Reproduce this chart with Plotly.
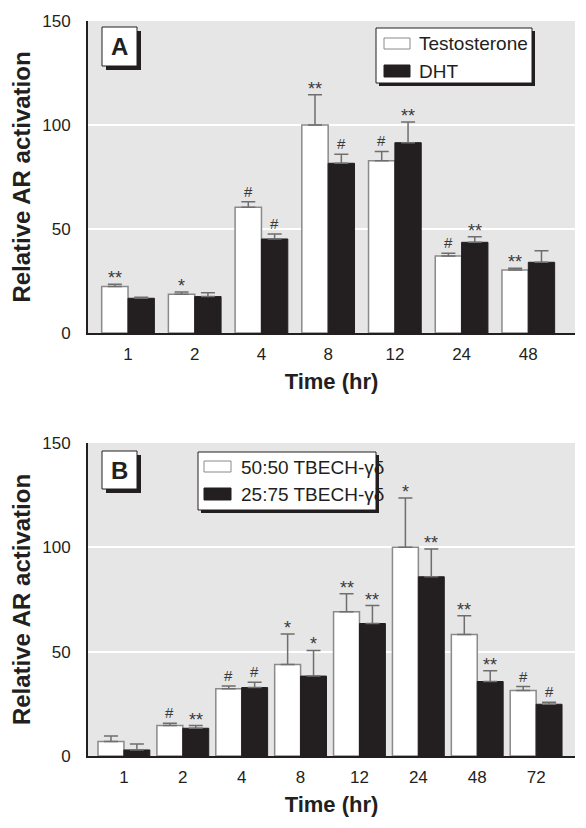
import plotly.graph_objects as go

# ---------------- data ----------------
cats_a = ["1", "2", "4", "8", "12", "24", "48"]
testo = [22.3, 18.6, 60.4, 100.0, 82.8, 37.0, 30.3]
testo_err = [1.1, 1.1, 2.7, 14.5, 4.5, 1.3, 0.8]
dht = [16.7, 17.5, 45.2, 81.6, 91.5, 43.6, 34.0]
dht_err = [0.5, 1.9, 2.4, 4.3, 9.9, 2.7, 5.6]
testo_sig = ["**", "*", "#", "**", "#", "#", "**"]
dht_sig = ["", "", "#", "#", "**", "**", ""]

cats_b = ["1", "2", "4", "8", "12", "24", "48", "72"]
tb50 = [6.9, 14.6, 32.2, 43.8, 69.1, 100.0, 58.2, 31.4]
tb50_err = [2.7, 1.1, 1.3, 14.7, 8.6, 23.6, 9.0, 1.9]
tb25 = [2.9, 13.3, 32.8, 38.3, 63.5, 85.9, 35.7, 24.8]
tb25_err = [2.9, 1.3, 2.6, 12.3, 8.6, 13.3, 5.2, 1.0]
tb50_sig = ["", "#", "#", "*", "**", "*", "**", "#"]
tb25_sig = ["", "**", "#", "*", "**", "**", "**", "#"]

y_ticks = [0, 50, 100, 150]

# ---------------- style ----------------
OFF = 8                      # page body margin in the browser
W, H = 586 - OFF, 828 - OFF
L_REF, R_REF, T_REF, B_REF = 88, 575, 21, 756   # plot area in page pixels
ML, MT = L_REF - OFF, T_REF - OFF
MR = W - (R_REF - OFF)
MB = H - (B_REF - OFF)
FONT = "Liberation Sans, Arial, Helvetica, sans-serif"
BLACK = "#231f20"
GRAY_BG = "#e6e6e6"
EDGE = "#8a8a8a"
ERRC = "#6e6e6e"

pw = R_REF - L_REF
ph = B_REF - T_REF


def px(xp):
    return (xp - L_REF) / pw


def py(yp):
    return (B_REF - yp) / ph


dom_a = [py(333), 1.0]
dom_b = [0.0, py(443)]

fig = go.Figure()


def add_panel(cats, s1, e1, s2, e2, xa, ya, bw):
    xs = list(range(len(cats)))
    fig.add_trace(go.Bar(
        x=xs, y=s1, width=bw, offset=-bw, xaxis=xa, yaxis=ya,
        marker=dict(color="white", line=dict(color=EDGE, width=1.5)),
        error_y=dict(type="data", array=e1, arrayminus=[0] * len(e1), symmetric=False,
                     color=ERRC, thickness=1.5, width=7),
        showlegend=False, hoverinfo="skip"))
    fig.add_trace(go.Bar(
        x=xs, y=s2, width=bw, offset=0, xaxis=xa, yaxis=ya,
        marker=dict(color=BLACK, line=dict(color=BLACK, width=1)),
        error_y=dict(type="data", array=e2, arrayminus=[0] * len(e2), symmetric=False,
                     color=ERRC, thickness=1.5, width=7),
        showlegend=False, hoverinfo="skip"))


bw_a = 0.395
bw_b = 0.44
add_panel(cats_a, testo, testo_err, dht, dht_err, "x", "y", bw_a)
add_panel(cats_b, tb50, tb50_err, tb25, tb25_err, "x2", "y2", bw_b)

annotations = []


def sig_marks(vals, errs, sigs, xref, yref, dx):
    for i, (v, e, s) in enumerate(zip(vals, errs, sigs)):
        if not s:
            continue
        star = "*" in s
        annotations.append(dict(
            x=i + dx, y=v + e, xref=xref, yref=yref, text=s, showarrow=False,
            yanchor="bottom", xanchor="center",
            yshift=(-6 if star else 0),
            font=dict(family=FONT, size=(18 if star else 15), color="#3a3a3a")))


sig_marks(testo, testo_err, testo_sig, "x", "y", -bw_a / 2)
sig_marks(dht, dht_err, dht_sig, "x", "y", bw_a / 2)
sig_marks(tb50, tb50_err, tb50_sig, "x2", "y2", -bw_b / 2)
sig_marks(tb25, tb25_err, tb25_sig, "x2", "y2", bw_b / 2)

shapes = []


def box(x0, y0, x1, y1, shadow=4):
    shapes.append(dict(type="rect", xref="paper", yref="paper",
                       x0=px(x0 + shadow), x1=px(x1 + shadow), y0=py(y1 + shadow), y1=py(y0 + shadow),
                       fillcolor=BLACK, line=dict(width=0), layer="above"))
    shapes.append(dict(type="rect", xref="paper", yref="paper",
                       x0=px(x0), x1=px(x1), y0=py(y1), y1=py(y0),
                       fillcolor="white", line=dict(color=BLACK, width=1), layer="above"))


def swatch(x0, y0, x1, y1, fill, edge):
    shapes.append(dict(type="rect", xref="paper", yref="paper",
                       x0=px(x0), x1=px(x1), y0=py(y1), y1=py(y0),
                       fillcolor=fill, line=dict(color=edge, width=1), layer="above"))


def label(x, y, text, size, anchor="left", bold=False):
    annotations.append(dict(x=px(x), y=py(y), xref="paper", yref="paper",
                            text=("<b>%s</b>" % text) if bold else text, showarrow=False,
                            xanchor=anchor, yanchor="middle",
                            font=dict(family=FONT, size=size, color=BLACK)))


# panel letters
box(102, 27, 137, 66)
label(119.5, 46.5, "A", 24, "center", True)
box(102, 451, 137, 489)
label(119.5, 470.5, "B", 24, "center", True)

# legends
box(376, 28, 532, 83, shadow=3)
swatch(384, 38, 410, 49, "white", EDGE)
swatch(384, 65, 410, 77, BLACK, BLACK)
label(417, 44, "Testosterone", 19)
label(417, 71.5, "DHT", 19)

box(198, 452, 376, 510, shadow=3)
swatch(204, 461, 231, 472, "white", EDGE)
swatch(204, 488, 231, 500, BLACK, BLACK)
label(239, 467, "50:50 TBECH-γδ", 19)
label(239, 495, "25:75 TBECH-γδ", 19)

axis_common = dict(showline=True, linecolor=BLACK, linewidth=2, ticks="",
                   tickfont=dict(family=FONT, size=17, color=BLACK), zeroline=False)
yaxis_common = dict(axis_common, range=[0, 150], tickvals=y_ticks, showgrid=True,
                    gridcolor="white", gridwidth=1.5, ticklabelstandoff=12,
                    title=dict(text="<b>Relative AR activation</b>", standoff=14,
                               font=dict(family=FONT, size=24, color=BLACK)))
xaxis_common = dict(axis_common, showgrid=False, ticklabelstandoff=5,
                    title=dict(text="<b>Time (hr)</b>", standoff=10,
                               font=dict(family=FONT, size=22, color=BLACK)))

fig.update_layout(
    width=W, height=H,
    margin=dict(l=ML, r=MR, t=MT, b=MB, autoexpand=False),
    paper_bgcolor="white", plot_bgcolor=GRAY_BG,
    barmode="overlay",
    xaxis=dict(xaxis_common, domain=[0, 1], anchor="y", range=[-0.6, 6.7],
               tickvals=list(range(len(cats_a))), ticktext=cats_a),
    yaxis=dict(yaxis_common, domain=dom_a, anchor="x"),
    xaxis2=dict(xaxis_common, domain=[0, 1], anchor="y2", range=[-0.61, 7.66],
                tickvals=list(range(len(cats_b))), ticktext=cats_b),
    yaxis2=dict(yaxis_common, domain=dom_b, anchor="x2"),
    shapes=shapes,
    annotations=annotations,
)

fig.write_html("out.html")
